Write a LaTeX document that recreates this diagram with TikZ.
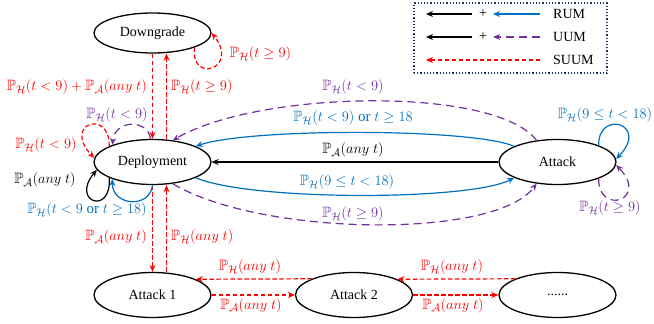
\documentclass[tikz,border=0pt]{standalone}
\usepackage{amsmath,amssymb}
\usepackage{fontspec}
\setmainfont{Liberation Serif}
\usetikzlibrary{arrows.meta,calc,shapes.geometric}
\definecolor{cred}{RGB}{255,0,0}
\definecolor{cblue}{RGB}{0,112,192}
\definecolor{cpurp}{RGB}{112,48,160}
\definecolor{cnavy}{RGB}{31,56,100}
\newcommand{\PH}{\mathbb{P}_{\mathcal{H}}}
\newcommand{\PA}{\mathbb{P}_{\mathcal{A}}}
\begin{document}
\begin{tikzpicture}[x=1pt,y=1pt,
 state/.style={draw,ellipse,line width=1.3pt,minimum width=117pt,minimum height=45pt,inner sep=0pt,font=\fontsize{14}{16}\selectfont},
 arr/.style={line width=1.2pt,-{Stealth[length=7pt,width=6pt]}},
 rd/.style={arr,cred,dash pattern=on 4.5pt off 2.5pt},
 pd/.style={arr,cpurp,dash pattern=on 8pt off 5pt},
 bl/.style={arr,cblue},
 bk/.style={arr,black},
 lab/.style={font=\fontsize{15}{17}\selectfont,inner sep=1pt},
 txt/.style={font=\fontsize{14}{16}\selectfont,inner sep=0pt},
]
\useasboundingbox (0,0) rectangle (654,324);

% states
\node[state,minimum height=40pt] (G) at (152.5,291) {Downgrade};
\node[state] (D) at (152.5,162) {Deployment};
\node[state] (A) at (557.5,162) {Attack};
\node[state] (A1) at (152.5,29) {Attack 1};
\node[state] (A2) at (354,29) {Attack 2};
\node[state] (A3) at (557.5,29) {......};

% Downgrade <-> Deployment
\draw[rd] (G.south) -- (D.north);
\draw[rd] ([xshift=14pt]D.north) -- ([xshift=14pt]G.south);
\draw[rd] (G.-19) .. controls (190,240) and (240,255) .. (G.east);

% Deployment <-> Attack 1
\draw[rd] (D.south) -- (A1.north);
\draw[rd] ([xshift=14pt]A1.north) -- ([xshift=14pt]D.south);

% bottom chain
\draw[rd] (A1.east) -- (A2.west);
\draw[rd] (A2.east) -- (A3.west);
\draw[rd] (A3.159.5) -- (A2.20.5);
\draw[rd] (A2.159.5) -- (A1.20.5);

% Deployment self loops
\draw[rd] (D.160) .. controls (110,216) and (62,200) .. (D.176);
\draw[pd] (D.95) .. controls (148,205) and (115,205) .. (D.157);
\draw[bk] (D.-160) .. controls (112,108) and (70,122) .. (D.-172);
\draw[bl] (D.south) .. controls (150,115) and (112,118) .. (D.-157);

% Deployment <-> Attack
\draw[bk] (A.west) -- (D.east);
\draw[bl] (A.160) .. controls (470,196) and (250,196) .. (D.20);
\draw[bl] (D.-20) .. controls (250,123) and (470,123) .. (A.-160);
\draw[pd] (A.134) .. controls (495,238) and (260,234) .. (D.47);
\draw[pd] (D.-47) .. controls (260,88) and (495,84) .. (A.-134);

% Attack self loops
\draw[bl] (A.22) .. controls (598,215) and (650,200) .. (A.3);
\draw[pd] (A.-22) .. controls (598,108) and (650,124) .. (A.-3);

% labels
\node[lab,text=cred] (l1) at (260.5,270) {$\PH(t\geq 9)$};
\node[lab,text=cred,anchor=east] (l2) at (148,237) {$\PH(t<9)+\PA(any\ t)$};
\node[lab,text=cred,anchor=west] (l3) at (170,237) {$\PH(t\geq 9)$};
\node[lab,text=cpurp] (l4) at (353,237) {$\PH(t<9)$};
\node[lab,text=cblue] (l5) at (353,206) {$\PH(t<9)$ or $t\geq 18$};
\node[lab] (l6) at (353,174) {$\PA(any\ t)$};
\node[lab,text=cblue] (l7) at (347,142) {$\PH(9\leq t<18)$};
\node[lab,text=cpurp] (l8) at (353,110) {$\PH(t\geq 9)$};
\node[lab,text=cred] (l9) at (46,179) {$\PH(t<9)$};
\node[lab,text=cpurp] (l10) at (117,209) {$\PH(t<9)$};
\node[lab] (l11) at (45,144) {$\PA(any\ t)$};
\node[lab,text=cblue] (l12) at (87,114) {$\PH(t<9\text{ or }t\geq 18)$};
\node[lab,text=cblue] (l13) at (605,209) {$\PH(9\leq t<18)$};
\node[lab,text=cpurp] (l14) at (610,116) {$\PH(t\geq 9)$};
\node[lab,text=cred,anchor=east] (l15) at (148,87) {$\PA(any\ t)$};
\node[lab,text=cred,anchor=west] (l16) at (170,87) {$\PH(any\ t)$};
\node[lab,text=cred] (l17) at (250,57) {$\PH(any\ t)$};
\node[lab,text=cred] (l18) at (452,57) {$\PH(any\ t)$};
\node[lab,text=cred] (l19) at (251,18.5) {$\PA(any\ t)$};
\node[lab,text=cred] (l20) at (453,18.5) {$\PA(any\ t)$};

% legend
\node[draw=cnavy,dotted,line width=1.2pt,minimum width=193pt,minimum height=70pt,inner sep=0pt] (leg) at (510.5,286) {};
\coordinate (k1a) at (472,310); \coordinate (k1b) at (426,310);
\coordinate (k1c) at (540,310); \coordinate (k1d) at (493,310);
\coordinate (k2a) at (472,287); \coordinate (k2b) at (426,287);
\coordinate (k2c) at (540,287); \coordinate (k2d) at (493,287);
\coordinate (k3a) at (540,264); \coordinate (k3b) at (426,264);
\draw[bk] (k1a) -- (k1b);
\draw[bl] (k1c) -- (k1d);
\draw[bk] (k2a) -- (k2b);
\draw[pd] (k2c) -- (k2d);
\draw[rd] (k3a) -- (k3b);
\node[txt] (p1) at (483,310) {+};
\node[txt] (p2) at (483,287) {+};
\node[txt,anchor=west] (t1) at (553,310) {RUM};
\node[txt,anchor=west] (t2) at (553,287) {UUM};
\node[txt,anchor=west] (t3) at (553,264) {SUUM};
\end{tikzpicture}
\end{document}
